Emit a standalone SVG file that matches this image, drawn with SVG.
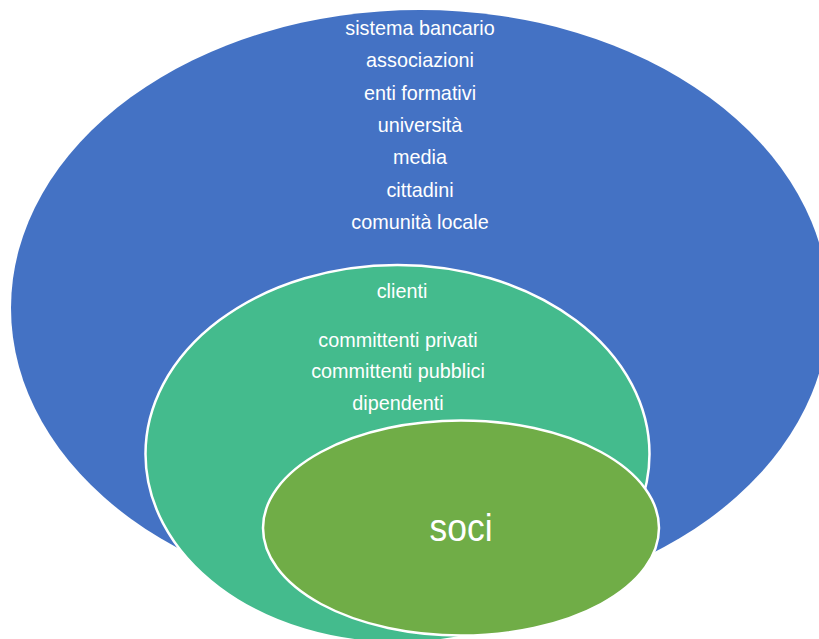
<svg xmlns="http://www.w3.org/2000/svg" width="819" height="639" viewBox="0 0 819 639">
  <style>
    .lbl { font-family: "Liberation Sans", Arial, sans-serif; font-size: 19.8px; fill: #ffffff; text-anchor: middle; }
    .big { font-family: "Liberation Sans", Arial, sans-serif; font-size: 39px; fill: #ffffff; text-anchor: middle; }
    .ring { stroke: #ffffff; stroke-width: 2.5; }
  </style>
  <rect width="819" height="639" fill="#ffffff"/>
  <g id="stakeholder-esterni">
    <ellipse cx="420" cy="308" rx="409" ry="298" fill="#4472C4"/>
    <text class="lbl" x="420" y="35">sistema bancario</text>
    <text class="lbl" x="420" y="67">associazioni</text>
    <text class="lbl" x="420" y="99.5">enti formativi</text>
    <text class="lbl" x="420" y="132">università</text>
    <text class="lbl" x="420" y="164">media</text>
    <text class="lbl" x="420" y="196.5">cittadini</text>
    <text class="lbl" x="420" y="229">comunità locale</text>
  </g>
  <g id="stakeholder-interni">
    <ellipse class="ring" cx="397.5" cy="454" rx="252" ry="189" fill="#44BB8D"/>
    <text class="lbl" x="402" y="298">clienti</text>
    <text class="lbl" x="398" y="347">committenti privati</text>
    <text class="lbl" x="398" y="378">committenti pubblici</text>
    <text class="lbl" x="398" y="410">dipendenti</text>
  </g>
  <g id="soci">
    <ellipse class="ring" cx="461" cy="528" rx="198" ry="107.5" fill="#70AD47"/>
    <text class="big" x="461" y="541" textLength="63" lengthAdjust="spacingAndGlyphs">soci</text>
  </g>
  <g id="connectors"/>
</svg>
